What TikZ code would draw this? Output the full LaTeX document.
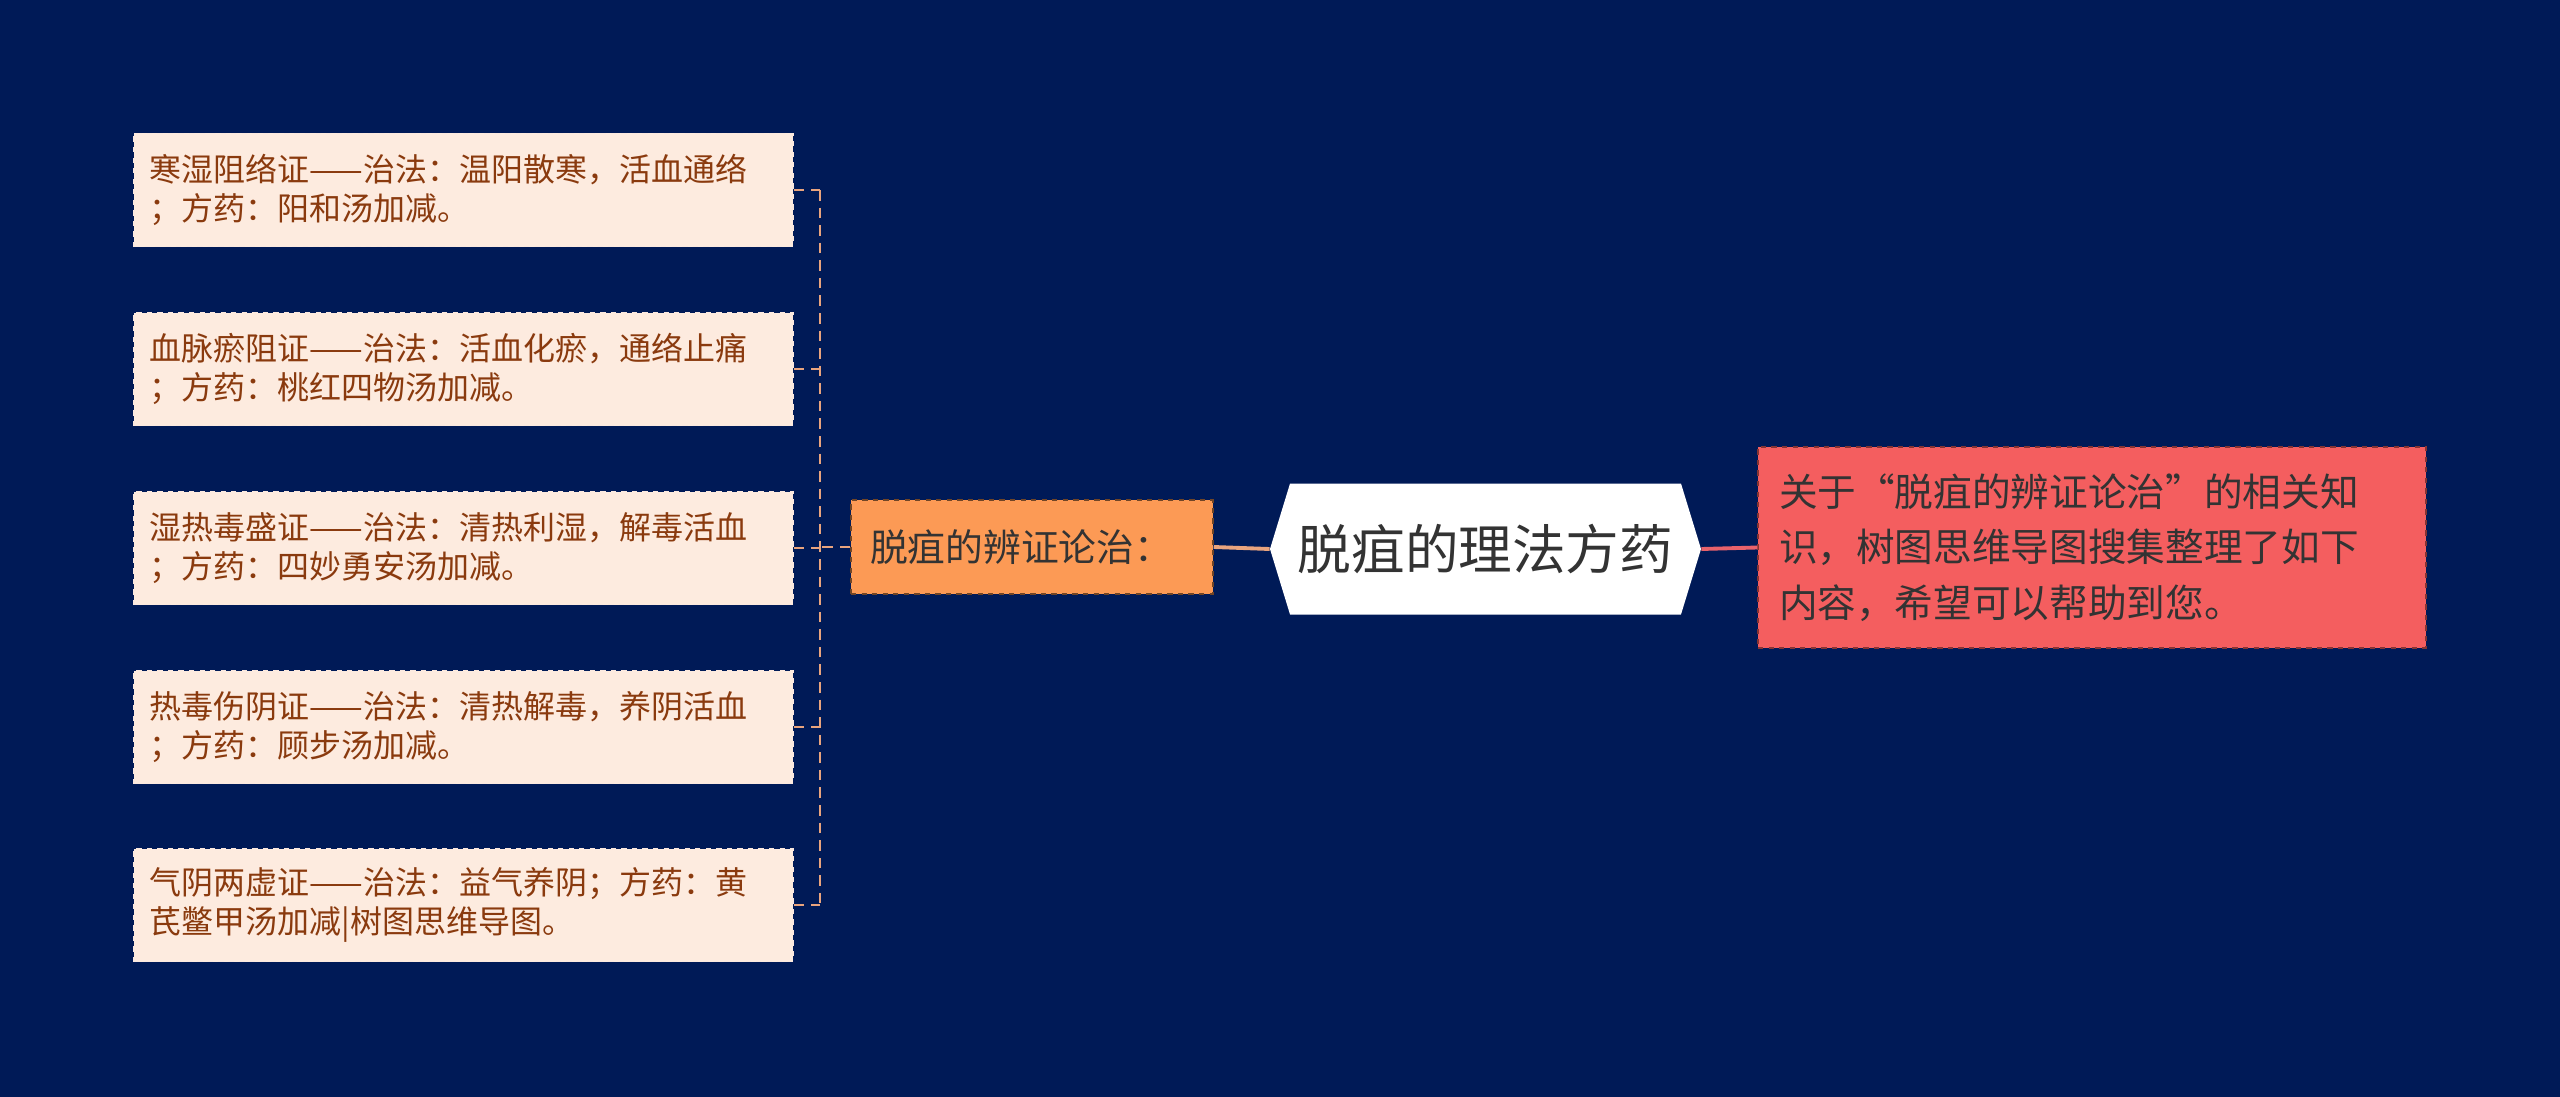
\documentclass[tikz,border=0pt]{standalone}
\usepackage{fontspec}
\setmainfont{Noto Sans CJK SC}
\usepackage{tikz}
\usetikzlibrary{positioning,shapes.symbols}

\definecolor{bgnavy}{HTML}{001A57}
\definecolor{leaffill}{HTML}{FDEBDF}
\definecolor{leaftext}{HTML}{8A3A0E}
\definecolor{brkline}{HTML}{E9A47E}
\definecolor{midfill}{HTML}{FC9A55}
\definecolor{redfill}{HTML}{F45E5F}
\definecolor{redline}{HTML}{E8626B}
\definecolor{darktext}{HTML}{333333}

\tikzset{
  leafbox/.style={draw=white!75!brkline, dashed, line width=0.8pt, fill=leaffill,
    text=leaftext, inner sep=0pt, minimum width=131.8mm, minimum height=22.6mm,
    text width=125.4mm, align=left, font=\fontsize{18.2pt}{22.5pt}\selectfont},
  midbox/.style={draw=black!55!midfill, dashed, line width=0.8pt, fill=midfill,
    text=darktext, inner sep=0pt, minimum width=72.4mm, minimum height=18.8mm,
    text width=64.8mm, align=left, font=\fontsize{21.5pt}{26pt}\selectfont},
  rootbox/.style={signal, signal to=west and east, signal pointer angle=146,
    fill=white, text=darktext, inner sep=0pt, minimum width=86.2mm, minimum height=26.2mm,
    font=\fontsize{30.5pt}{36pt}\selectfont},
  notebox/.style={draw=black!45!redfill, dashed, line width=0.8pt, fill=redfill,
    text=darktext, inner sep=0pt, minimum width=133.6mm, minimum height=40.2mm,
    text width=125.2mm, align=left, font=\fontsize{22pt}{31.6pt}\selectfont},
  brk/.style={brkline, line width=1.5pt, dash pattern=on 6pt off 4pt},
}

\begin{document}
\begin{tikzpicture}[x=0.2mm,y=0.2mm]
\fill [bgnavy] (0,0) rectangle (2560,-1097);
\useasboundingbox (0,0) rectangle (2560,-1097);

% root and right note
\node [rootbox] (root) at (1485.5,-549) {脱疽的理法方药};
\node [notebox] (note) at (2092,-547.5) {关于“脱疽的辨证论治”的相关知\\识，树图思维导图搜集整理了如下\\内容，希望可以帮助到您。};

% branch
\node [midbox] (bz) at (1032,-547) {脱疽的辨证论治：};

% leaves
\node [leafbox] (l1) at (463.5,-190) {寒湿阻络证——治法：温阳散寒，活血通络\\；方药：阳和汤加减。};
\node [leafbox] (l2) at (463.5,-369) {血脉瘀阻证——治法：活血化瘀，通络止痛\\；方药：桃红四物汤加减。};
\node [leafbox] (l3) at (463.5,-548) {湿热毒盛证——治法：清热利湿，解毒活血\\；方药：四妙勇安汤加减。};
\node [leafbox] (l4) at (463.5,-727) {热毒伤阴证——治法：清热解毒，养阴活血\\；方药：顾步汤加减。};
\node [leafbox] (l5) at (463.5,-905) {气阴两虚证——治法：益气养阴；方药：黄\\芪鳖甲汤加减|树图思维导图。};

\coordinate (bx) at (820,-547);

% connectors
\draw [brkline, line width=2.2pt] (root.west) -- (bz.east);
\draw [redline, line width=2.2pt] (root.east) -- (note.west);
\draw [brk] (bz.west) -- (bx);
\draw [brk] (l1.east -| bx) -- (l5.east -| bx);
\foreach \i in {1,...,5}
  \draw [brk] (l\i.east) -- (l\i.east -| bx);
\end{tikzpicture}
\end{document}
